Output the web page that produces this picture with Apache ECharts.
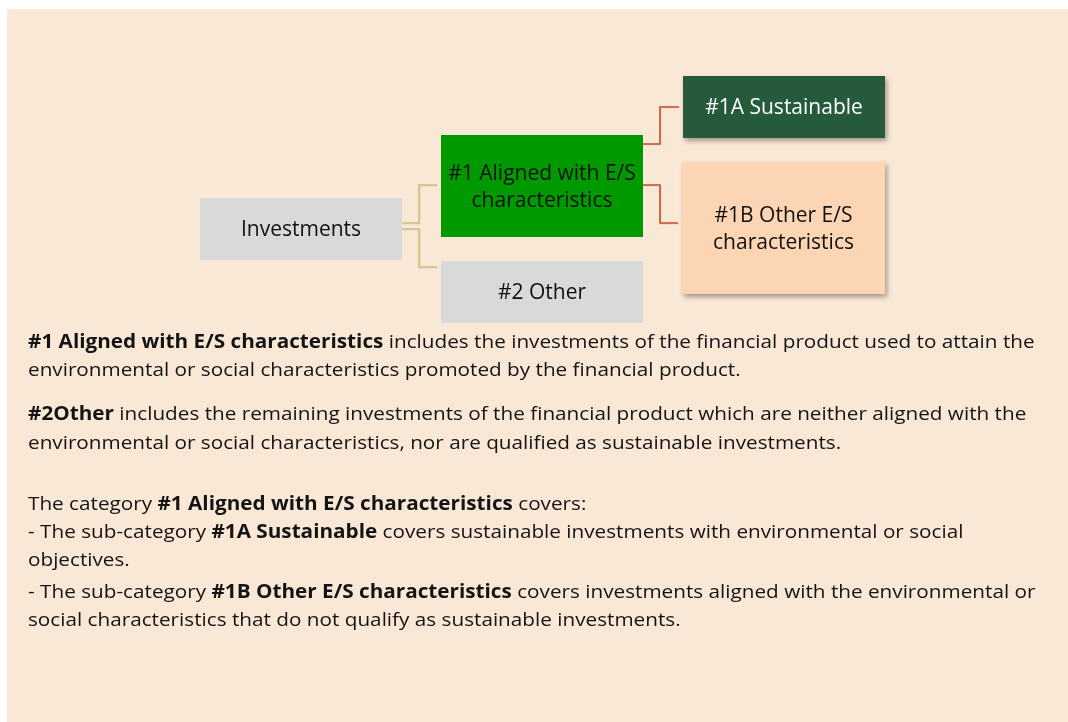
<!DOCTYPE html>
<html>
<head>
<meta charset="utf-8">
<script src="https://cdn.jsdelivr.net/npm/echarts@6/dist/echarts.min.js"></script>
<style>
  html, body { margin: 0; padding: 0; background: #ffffff; }
  #chart { width: 1068px; height: 722px; }
</style>
</head>
<body>
<div id="chart"></div>
<script>
// diagram content
const nodeLabels = [
  'Investments',
  '#1 Aligned with E/S\ncharacteristics',
  '#2 Other',
  '#1A Sustainable',
  '#1B Other E/S\ncharacteristics'
];
const nodeColors = ['#D9D9D9', '#009900', '#D9D9D9', '#255A3B', '#FCD5B4'];
const nodeTextColors = ['#111111', '#111111', '#111111', '#FFFFFF', '#111111'];
// parent -> child
const links = [[0, 1], [0, 2], [1, 3], [1, 4]];
const linkColors = ['#D3C27E', '#D3C27E', '#C9502E', '#C9502E'];

// explanatory text, {b|...} marks bold runs
const noteLines = [
  '{b|#1 Aligned with E/S characteristics} includes the investments of the financial product used to attain the',
  'environmental or social characteristics promoted by the financial product.',
  '{b|#2Other} includes the remaining investments of the financial product which are neither aligned with the',
  'environmental or social characteristics, nor are qualified as sustainable investments.',
  'The category {b|#1 Aligned with E/S characteristics} covers:',
  '- The sub-category {b|#1A Sustainable} covers sustainable investments with environmental or social',
  'objectives.',
  '- The sub-category {b|#1B Other E/S characteristics} covers investments aligned with the environmental or',
  'social characteristics that do not qualify as sustainable investments.'
];

// layout (pixels)
const boxRects = [
  [200, 198, 202, 62],
  [441, 135, 202, 102],
  [441, 261, 202, 62],
  [683, 76, 202, 62],
  [682, 162, 203, 132]
];
const boxShadow = [false, false, false, true, true];
// [startY, endY] of each elbow connector
const linkAnchors = [[223, 185], [229, 267], [144, 107], [185, 223]];
const noteY = [343, 371, 415, 444, 505, 533, 561, 593, 621];

const FONT = '"Open Sans", Lato, sans-serif';

const myChart = echarts.init(document.getElementById('chart'));

const graphics = [];

// panel background
graphics.push({
  type: 'rect',
  shape: { x: 7, y: 9, width: 1061, height: 713 },
  style: { fill: '#FAE8D7' },
  z: 0
});

// connectors
links.forEach((l, i) => {
  const p = boxRects[l[0]];
  const c = boxRects[l[1]];
  const x0 = p[0] + p[2];
  const x1 = c[0] - 4;
  const xm = x0 + 17;
  graphics.push({
    type: 'polyline',
    shape: { points: [[x0, linkAnchors[i][0]], [xm, linkAnchors[i][0]], [xm, linkAnchors[i][1]], [x1, linkAnchors[i][1]]] },
    style: {
      stroke: linkColors[i],
      lineWidth: 1.6,
      fill: null,
      shadowBlur: 1,
      shadowOffsetX: 0.5,
      shadowOffsetY: 0.5,
      shadowColor: 'rgba(0,0,0,0.15)'
    },
    z: 1
  });
});

// boxes
nodeLabels.forEach((name, i) => {
  const r = boxRects[i];
  const style = { fill: nodeColors[i] };
  if (boxShadow[i]) {
    style.shadowBlur = 5;
    style.shadowOffsetX = 2;
    style.shadowOffsetY = 3;
    style.shadowColor = 'rgba(0,0,0,0.35)';
  }
  graphics.push({
    type: 'rect',
    shape: { x: r[0], y: r[1], width: r[2], height: r[3] },
    style: style,
    z: 2
  });
  graphics.push({
    type: 'text',
    x: r[0] + r[2] / 2,
    y: r[1] + r[3] / 2 + 1.5,
    style: {
      text: name,
      fill: nodeTextColors[i],
      font: '21px ' + FONT,
      lineHeight: 27,
      align: 'center',
      verticalAlign: 'middle'
    },
    z: 3
  });
});

// notes
noteLines.forEach((line, i) => {
  graphics.push({
    type: 'text',
    x: 28,
    y: noteY[i],
    scaleX: 1.09,
    style: {
      text: line,
      fill: '#141414',
      fontFamily: FONT,
      fontSize: 19,
      verticalAlign: 'middle',
      rich: {
        b: { fontFamily: FONT, fontSize: 19, fontWeight: 'bold', fill: '#141414' }
      }
    },
    z: 3
  });
});

myChart.setOption({
  backgroundColor: '#ffffff',
  animation: false,
  graphic: graphics
});

window.addEventListener('resize', () => myChart.resize());
</script>
</body>
</html>
